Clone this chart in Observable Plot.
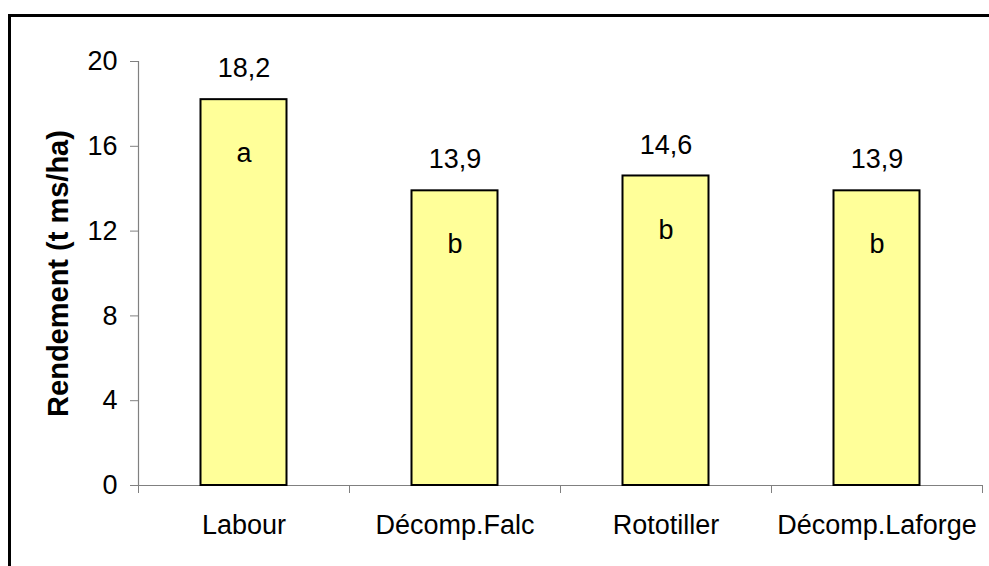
<!DOCTYPE html>
<html>
<head>
<meta charset="utf-8">
<script src="https://cdn.jsdelivr.net/npm/d3@7"></script>
<script src="https://cdn.jsdelivr.net/npm/@observablehq/plot@0.6"></script>
<style>
  html, body { margin: 0; padding: 0; background: #fff; overflow: hidden; }
  #wrap { position: relative; width: 989px; height: 566px; }
  #wrap svg { position: absolute; left: 0; top: 0; }
  #frame { position: absolute; left: 8px; top: 14px; width: 1100px; height: 700px; border: 3px solid #000; box-sizing: border-box; pointer-events: none; }
</style>
</head>
<body>
<div id="wrap"><div id="frame"></div></div>
<script>
const categories = ["Labour", "Décomp.Falc", "Rototiller", "Décomp.Laforge"];
const values = [18.2, 13.9, 14.6, 13.9];
const letters = ["a", "b", "b", "b"];
const yTicks = [0, 4, 8, 12, 16, 20];
const yTitle = "Rendement (t ms/ha)";

const data = categories.map((c, i) => ({cat: c, value: values[i], letter: letters[i]}));

const W = 989, H = 566, mL = 138, mR = 7, mT = 61, mB = 81;
const step = (W - mL - mR) / categories.length;
const barW = 86;
const inset = (step - barW) / 2;
const fmt = v => v.toFixed(1).replace(".", ",");
const axisGray = "#808080";

const chart = Plot.plot({
  width: W, height: H,
  marginLeft: mL, marginRight: mR, marginTop: mT, marginBottom: mB,
  style: {fontFamily: "'Liberation Sans', Arial, sans-serif", fontSize: "27px", color: "#000", background: "transparent"},
  x: {type: "band", domain: categories, padding: 0, label: null},
  y: {domain: [0, 20], label: null},
  marks: [
    Plot.ruleY([0], {stroke: axisGray, strokeWidth: 1.2}),
    Plot.ruleX([categories[0]], {dx: -step / 2, y1: 0, y2: 20, stroke: axisGray, strokeWidth: 1.2}),
    Plot.axisY({ticks: yTicks, tickSize: 8, tickPadding: 13, tickFormat: d => String(d), stroke: axisGray, fill: "#000", fontSize: 27}),
    Plot.axisX(categories, {tickSize: 8, tickFormat: () => "", dx: -step / 2, stroke: axisGray}),
    Plot.axisX([categories[categories.length - 1]], {tickSize: 8, tickFormat: () => "", dx: step / 2, stroke: axisGray}),
    Plot.axisX({tickSize: 0, tickPadding: 29, fill: "#000", fontSize: 27}),
    Plot.barY(data, {x: "cat", y: "value", fill: "#FFFF99", stroke: "#000", strokeWidth: 2, insetLeft: inset, insetRight: inset}),
    Plot.text(data, {x: "cat", y: "value", text: d => fmt(d.value), dy: -31, fontSize: 27, fill: "#000"}),
    Plot.text(data, {x: "cat", y: "value", text: "letter", dy: 54, fontSize: 27, fill: "#000"}),
    Plot.text([yTitle], {frameAnchor: "left", textAnchor: "middle", dx: -80, rotate: -90, fontWeight: "bold", fontSize: 29, fill: "#000"})
  ]
});
document.getElementById("wrap").insertBefore(chart, document.getElementById("frame"));
</script>
</body>
</html>
